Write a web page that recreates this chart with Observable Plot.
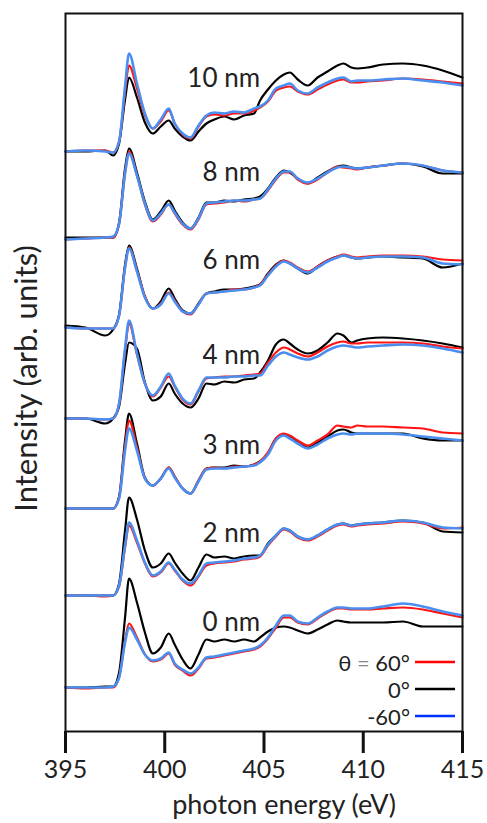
<!DOCTYPE html>
<html><head><meta charset="utf-8">
<script src="https://cdn.jsdelivr.net/npm/d3@7"></script>
<script src="https://cdn.jsdelivr.net/npm/@observablehq/plot@0.6"></script>
<style>body{margin:0;background:#fff} #chart{width:487px;height:823px}</style>
</head><body><div id="chart"></div>
<script>
// photon energy grid (eV)
const energy = [395, 396, 397, 397.4, 397.7, 398.0, 398.2, 398.6, 399.0, 399.4,
  399.8, 400.2, 400.5, 400.9, 401.3, 401.7, 402.1, 402.5, 403.0, 403.5,
  404.0, 404.5, 404.8, 405.2, 405.6, 406.0, 406.3, 406.7, 407.2, 407.7,
  408.2, 408.7, 409.0, 409.4, 409.7, 410.2, 411, 412, 413, 414, 415];

const thicknesses = ["0 nm", "2 nm", "3 nm", "4 nm", "6 nm", "8 nm", "10 nm"];
const offsets = [4.4, 13.6, 22.3, 31.3, 40.4, 49.3, 58.0];
const labelLift = [6.5, 6.2, 6.3, 6.3, 6.7, 6.6, 7.3];
const xTicks = [395, 400, 405, 410, 415];
const angleNames = ["60", "0", "-60"];
const angleColors = ["#ff1414", "#000000", "#4a8ef0"];
const legendColors = ["#ff0000", "#000000", "#0033ff"];

// intensities (arb. units), one array per thickness and angle
const t0_p60 = [0, -0.1, 0, 0, 1.0, 4.7, 6.4, 5.0, 3.3, 2.6,
  2.8, 3.4, 2.3, 1.7, 1.2, 1.9, 2.9, 3.0, 3.2, 3.4,
  3.6, 3.8, 4.1, 4.9, 6.0, 7.0, 7.0, 6.5, 6.3, 6.9,
  7.5, 7.9, 7.9, 7.8, 7.8, 7.8, 7.9, 8.0, 7.8, 7.4, 7.0];
const t0_0 = [0, 0, 0.1, 0.1, 1.5, 7.0, 10.9, 8.5, 5.5, 3.4,
  4.0, 5.4, 4.3, 2.8, 1.9, 3.3, 4.8, 4.6, 4.8, 4.6,
  4.8, 4.6, 5.0, 5.6, 6.0, 6.1, 6.0, 5.7, 5.4, 5.8,
  6.3, 6.7, 6.6, 6.5, 6.5, 6.5, 6.5, 6.6, 6.1, 6.1, 6.1];
const t0_m60 = [0, 0, 0, 0.1, 1.0, 4.5, 6.0, 4.8, 3.3, 2.7,
  2.9, 3.5, 2.4, 1.8, 1.4, 2.0, 3.0, 3.1, 3.3, 3.5,
  3.7, 3.9, 4.2, 5.0, 6.2, 7.2, 7.2, 6.6, 6.4, 7.0,
  7.6, 8.0, 8.0, 7.9, 7.9, 7.9, 8.1, 8.4, 8.1, 7.6, 7.2];

const t2_p60 = [0, 0, -0.1, 0, 0.9, 4.8, 7.0, 5.3, 3.2, 1.9,
  2.3, 3.2, 2.5, 1.5, 1.0, 1.9, 3.0, 3.2, 3.3, 3.4,
  3.6, 3.7, 3.9, 5.0, 5.9, 6.6, 6.4, 5.8, 5.5, 5.9,
  6.5, 7.0, 7.1, 6.9, 7.0, 7.1, 7.2, 7.4, 7.2, 6.7, 6.8];
const t2_0 = [0, 0, 0, 0, 1.2, 6.5, 9.8, 7.6, 4.5, 2.8,
  3.2, 4.2, 3.3, 2.2, 1.5, 2.8, 4.1, 3.8, 3.9, 3.7,
  3.9, 4.0, 4.0, 5.2, 6.0, 6.7, 6.5, 5.9, 5.6, 6.0,
  6.6, 7.1, 7.2, 7.0, 7.1, 7.2, 7.3, 7.5, 7.3, 6.4, 6.3];
const t2_m60 = [0, 0, 0, 0, 1.0, 5.0, 7.3, 5.5, 3.3, 2.0,
  2.4, 3.3, 2.6, 1.6, 1.2, 2.0, 3.2, 3.3, 3.4, 3.5,
  3.7, 3.8, 4.0, 5.1, 6.0, 6.7, 6.5, 5.9, 5.6, 6.0,
  6.6, 7.1, 7.2, 7.0, 7.1, 7.2, 7.3, 7.5, 7.3, 6.8, 6.7];

const t3_p60 = [0, 0, 0, 0, 1.1, 6.3, 8.8, 6.1, 3.0, 2.3,
  3.0, 4.1, 3.2, 2.0, 1.5, 2.8, 4.0, 4.1, 4.0, 4.2,
  4.2, 4.4, 4.7, 5.6, 7.0, 7.5, 7.3, 6.8, 6.3, 6.8,
  7.4, 8.3, 8.2, 8.1, 8.3, 8.2, 8.2, 8.1, 8.0, 7.6, 7.5];
const t3_0 = [0, 0, 0, 0, 1.2, 6.8, 9.5, 6.5, 3.1, 2.3,
  3.0, 4.1, 3.2, 2.0, 1.5, 2.8, 4.0, 4.1, 4.1, 4.3,
  4.2, 4.4, 4.7, 5.5, 7.0, 7.4, 7.2, 6.6, 6.1, 6.6,
  7.2, 7.8, 7.9, 7.6, 7.5, 7.5, 7.5, 7.5, 7.0, 6.8, 6.8];
const t3_m60 = [0, 0, 0, 0, 1.0, 5.8, 8.0, 5.8, 3.0, 2.3,
  3.0, 4.0, 3.1, 2.0, 1.5, 2.7, 3.9, 4.0, 4.0, 4.1,
  4.2, 4.3, 4.6, 5.4, 6.8, 7.3, 7.0, 6.5, 6.0, 6.4,
  7.0, 7.4, 7.5, 7.4, 7.5, 7.5, 7.5, 7.4, 7.2, 7.0, 6.8];

const t4_p60 = [0, 0, -0.1, 0, 1.5, 6.8, 9.5, 6.4, 3.5, 2.2,
  3.1, 4.2, 3.2, 1.9, 1.4, 2.7, 4.0, 4.1, 4.2, 4.2,
  4.3, 4.4, 4.5, 5.6, 6.6, 7.1, 6.9, 6.5, 6.2, 6.6,
  7.2, 7.6, 7.7, 7.5, 7.5, 7.6, 7.6, 7.6, 7.5, 7.2, 7.0];
const t4_0 = [0, 0, -0.5, 0, 1.2, 5.5, 7.6, 7.0, 3.6, 1.8,
  2.2, 3.5, 2.5, 1.5, 1.1, 2.0, 3.5, 3.4, 3.7, 3.6,
  3.9, 4.0, 4.6, 5.8, 7.4, 7.9, 7.5, 6.9, 6.5, 6.8,
  7.6, 8.5, 8.3, 7.6, 7.8, 8.0, 8.1, 8.0, 7.8, 7.5, 7.1];
const t4_m60 = [0, 0, -0.1, 0, 1.5, 7.0, 9.8, 6.5, 3.5, 2.3,
  3.2, 4.5, 3.3, 2.0, 1.5, 2.8, 4.1, 4.1, 4.1, 4.2,
  4.2, 4.3, 4.3, 5.3, 6.2, 6.6, 6.4, 6.1, 5.9, 6.2,
  6.8, 7.2, 7.3, 7.2, 7.1, 7.2, 7.3, 7.4, 7.3, 7.0, 6.6];

const t6_p60 = [0, -0.1, -0.1, -0.1, 1.2, 6.0, 8.0, 5.7, 3.1, 1.9,
  2.4, 3.5, 2.7, 1.6, 1.3, 2.3, 3.4, 3.5, 3.6, 3.8,
  3.8, 4.0, 4.3, 5.3, 6.2, 6.7, 6.5, 6.0, 5.6, 6.1,
  6.7, 7.1, 7.3, 7.1, 7.0, 7.1, 7.2, 7.2, 7.1, 6.8, 6.7];
const t6_0 = [0.2, 0, -0.8, -0.2, 1.3, 6.3, 8.2, 5.9, 3.1, 1.9,
  2.6, 3.9, 2.9, 1.7, 1.4, 2.4, 3.4, 3.6, 3.8, 3.8,
  3.9, 4.1, 4.3, 5.4, 6.3, 6.7, 6.4, 5.9, 5.4, 6.1,
  6.7, 7.1, 7.2, 7.0, 6.9, 7.0, 7.1, 7.0, 6.9, 6.0, 6.4];
const t6_m60 = [0, -0.1, -0.1, -0.1, 1.2, 6.0, 7.9, 5.6, 3.0, 1.9,
  2.3, 3.4, 2.6, 1.6, 1.4, 2.3, 3.4, 3.5, 3.6, 3.7,
  3.8, 4.0, 4.2, 5.2, 6.1, 6.6, 6.4, 5.9, 5.5, 6.0,
  6.6, 7.0, 7.2, 7.0, 6.9, 7.0, 7.1, 7.1, 7.0, 6.4, 6.3];

const t8_p60 = [-0.1, 0, 0.1, 0.1, 1.4, 6.6, 8.7, 6.3, 3.4, 1.7,
  2.4, 3.4, 2.5, 1.4, 0.9, 1.9, 3.4, 3.5, 3.6, 3.8,
  3.7, 3.9, 4.0, 4.8, 5.9, 6.6, 6.6, 5.9, 5.5, 5.9,
  6.6, 7.2, 7.1, 7.0, 6.9, 7.1, 7.3, 7.5, 7.3, 6.8, 6.6];
const t8_0 = [0.1, 0.1, 0.1, 0.1, 1.6, 7.0, 9.0, 6.6, 3.7, 1.9,
  2.7, 3.8, 2.8, 1.6, 1.0, 2.1, 3.6, 3.6, 3.8, 3.7,
  3.9, 4.0, 4.2, 5.0, 6.1, 6.8, 6.6, 6.0, 5.5, 6.1,
  6.7, 7.2, 7.3, 7.1, 7.0, 7.1, 7.3, 7.5, 7.2, 6.5, 6.5];
const t8_m60 = [-0.1, 0, 0.1, 0.2, 1.5, 6.5, 8.5, 6.3, 3.5, 1.8,
  2.5, 3.4, 2.6, 1.5, 1.0, 2.0, 3.5, 3.6, 3.7, 3.8,
  3.8, 3.9, 4.0, 4.9, 6.0, 6.7, 6.7, 6.0, 5.6, 6.0,
  6.6, 7.1, 7.2, 7.1, 7.0, 7.1, 7.3, 7.5, 7.3, 6.8, 6.6];

const t10_p60 = [0, 0.1, 0.1, -0.1, 1.0, 6.0, 8.6, 6.3, 3.6, 2.3,
  3.0, 4.1, 2.8, 1.7, 1.3, 2.5, 3.5, 3.7, 3.6, 3.8,
  3.8, 4.1, 4.4, 5.0, 6.1, 6.4, 6.5, 6.0, 5.7, 6.2,
  6.7, 7.1, 7.2, 6.9, 6.9, 7.0, 7.1, 7.3, 7.2, 7.0, 6.8];
const t10_0 = [0, 0, 0.1, -0.4, 0.8, 5.2, 7.4, 5.4, 2.9, 1.8,
  2.5, 3.1, 2.3, 1.5, 1.1, 2.0, 2.8, 3.2, 3.5, 3.2,
  3.6, 3.8, 5.1, 6.2, 7.1, 7.7, 7.9, 7.2, 6.6, 7.4,
  8.0, 8.6, 8.8, 8.4, 8.3, 8.4, 8.7, 8.8, 8.6, 8.1, 7.4];
const t10_m60 = [0, 0.1, 0, -0.1, 1.0, 6.5, 9.8, 6.8, 3.8, 2.3,
  3.2, 4.3, 2.8, 1.8, 1.4, 2.6, 3.6, 3.9, 3.8, 4.0,
  3.9, 4.3, 4.5, 5.1, 6.3, 6.6, 6.8, 6.1, 5.8, 6.4,
  6.9, 7.3, 7.4, 7.0, 7.1, 7.1, 7.2, 7.3, 7.1, 6.9, 6.6];

const spectra = [
  [t0_p60, t0_0, t0_m60],
  [t2_p60, t2_0, t2_m60],
  [t3_p60, t3_0, t3_m60],
  [t4_p60, t4_0, t4_m60],
  [t6_p60, t6_0, t6_m60],
  [t8_p60, t8_0, t8_m60],
  [t10_p60, t10_0, t10_m60]
];

const rows = [];
spectra.forEach((set, i) => {
  set.forEach((vals, a) => {
    vals.forEach((v, j) => {
      rows.push({E: energy[j], y: offsets[i] + v, angle: a, series: thicknesses[i] + "|" + angleNames[a]});
    });
  });
});

const labels = thicknesses.map((t, i) => ({t, y: offsets[i] + labelLift[i]}));
const drawOrder = [1, 0, 2];
const font = "Lato, 'Open Sans', sans-serif";

const chart = Plot.plot({
  width: 487,
  height: 823,
  marginLeft: 65,
  marginRight: 25,
  marginTop: 13,
  marginBottom: 92,
  style: {fontFamily: font, background: "#fff"},
  x: {domain: [395, 415]},
  y: {domain: [0, 71.8], axis: null},
  marks: [
    ...drawOrder.map(a => Plot.line(rows.filter(d => d.angle === a), {
      x: "E", y: "y", z: "series", stroke: angleColors[a], strokeWidth: a === 2 ? 2.6 : 2.2,
      strokeLinejoin: "round", curve: "monotone-x"
    })),
    Plot.text(labels, {x: () => 404.8, y: "y", text: "t", textAnchor: "end", fontSize: 26, fill: "#222"}),
    Plot.frame({stroke: "#111", strokeWidth: 2}),
    Plot.axisX({ticks: xTicks, tickSize: 22, tickPadding: 7, fontSize: 25, label: null, strokeWidth: 3, stroke: "#111", fill: "#222"}),
    Plot.text(["photon energy (eV)"], {frameAnchor: "bottom", text: d => d, dx: 20, dy: 82, fontSize: 27, textAnchor: "middle", fill: "#222"}),
    Plot.text(["Intensity (arb. units)"], {frameAnchor: "left", text: d => d, dx: -38, dy: 6, rotate: -90, fontSize: 31, textAnchor: "middle", fill: "#222"})
  ]
});

// legend
const svg = d3.select(chart);
const legendY = [663, 690, 717];
const lg = svg.append("g").attr("font-family", font).attr("font-size", 22).attr("fill", "#222");
angleNames.forEach((n, a) => {
  const t = lg.append("text").attr("x", 410).attr("y", legendY[a]).attr("dy", "0.35em").attr("text-anchor", "end");
  if (a === 0) {
    t.append("tspan").text("θ ");
    t.append("tspan").attr("fill", "#888").text("=");
    t.append("tspan").text(" " + n + "°");
  } else {
    t.text(n + "°");
  }
  lg.append("line").attr("x1", 415).attr("x2", 455).attr("y1", legendY[a] - 1).attr("y2", legendY[a] - 1)
    .attr("stroke", legendColors[a]).attr("stroke-width", 2.5);
});

document.getElementById("chart").appendChild(chart);
</script>
</body></html>
